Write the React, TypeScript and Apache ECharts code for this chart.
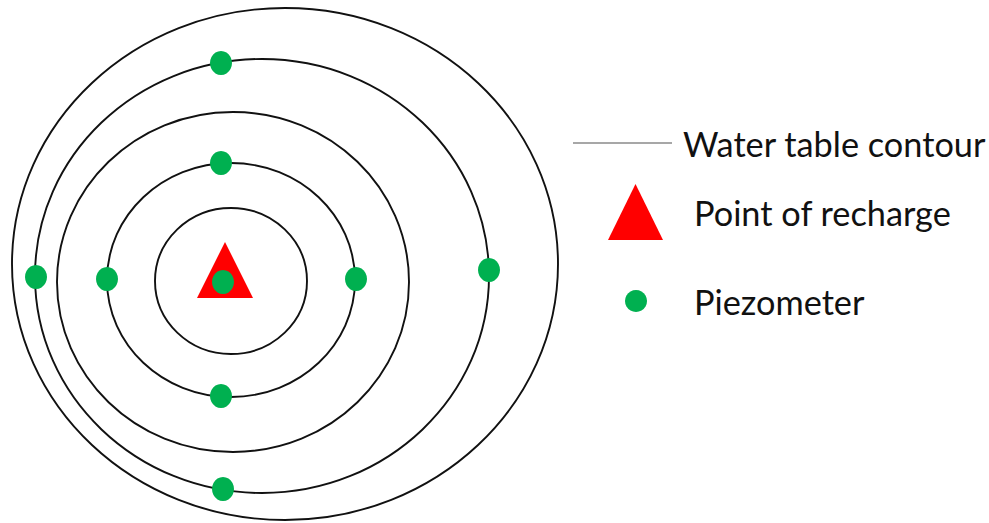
import React, { useEffect, useRef } from "react";
import * as echarts from "echarts";

// Diagram coordinate system: x 0..989 (left→right), y 0..523 (top→bottom)
const contourNames = ["C1", "C2", "C3", "C4", "C5"];
const contourCenterX = [285, 262, 233, 231, 231];
const contourCenterY = [264, 276, 282, 280, 281];
const contourRadiusX = [273, 227, 176, 124, 76];
const contourRadiusY = [256, 217, 170, 117, 73];

const piezometerX = [221, 221, 36, 107, 223, 356, 489, 221, 223];
const piezometerY = [63, 163, 277, 279, 282, 279, 270, 396, 489];

const rechargeX = [225];
const rechargeY = [270];

const legendLabels = ["Water table contour", "Point of recharge", "Piezometer"];

const FONT = "Lato";
const FONT_SIZE = 34.3;

export default function App() {
  const ref = useRef<HTMLDivElement>(null);

  useEffect(() => {
    document.body.style.margin = "0";
    const chart = echarts.init(ref.current!, null, { renderer: "svg" });

    const contourData = contourNames.map((n, i) => ({
      name: n,
      value: [contourCenterX[i], contourCenterY[i], contourRadiusX[i], contourRadiusY[i]],
    }));
    const piezoData = piezometerX.map((x, i) => [x, piezometerY[i]]);
    const rechargeData = rechargeX.map((x, i) => [x, rechargeY[i]]);

    const textBase = {
      fontFamily: FONT,
      fontSize: FONT_SIZE,
      lineHeight: 40,
      color: "#111",
    };

    const option: any = {
      animation: false,
      backgroundColor: "#ffffff",
      grid: { left: 0, right: 0, top: 0, bottom: 0, containLabel: false },
      xAxis: { type: "value", min: 0, max: 989, show: false },
      yAxis: { type: "value", min: 0, max: 523, inverse: true, show: false },
      tooltip: { show: false },
      legend: [
        {
          data: [
            {
              name: legendLabels[0],
              icon: "rect",
              itemStyle: { color: "#8a8a8a", borderWidth: 0 },
            },
          ],
          left: 573,
          top: 123,
          padding: 0,
          itemWidth: 99,
          itemHeight: 1.5,
          selectedMode: false,
          textStyle: { ...textBase, padding: [0, 0, 0, 6] },
        },
        {
          data: [{ name: legendLabels[1], icon: "triangle" }],
          left: 608,
          top: 184,
          padding: 0,
          itemWidth: 55,
          itemHeight: 56,
          symbolKeepAspect: false,
          selectedMode: false,
          textStyle: { ...textBase, padding: [6, 0, 0, 26] },
        },
        {
          data: [{ name: legendLabels[2], icon: "circle" }],
          left: 625,
          top: 279,
          padding: 0,
          itemWidth: 22,
          itemHeight: 23,
          symbolKeepAspect: false,
          selectedMode: false,
          textStyle: { ...textBase, padding: [4, 0, 0, 42] },
        },
      ],
      series: [
        {
          name: legendLabels[0],
          type: "custom",
          coordinateSystem: "cartesian2d",
          dimensions: ["cx", "cy", "rx", "ry"],
          encode: { x: 0, y: 1 },
          itemStyle: { color: "#8a8a8a" },
          renderItem: (params: any, api: any) => {
            const c = api.coord([api.value(0), api.value(1)]);
            const s = api.size([api.value(2), api.value(3)]);
            return {
              type: "ellipse",
              shape: { cx: c[0], cy: c[1], rx: Math.abs(s[0]), ry: Math.abs(s[1]) },
              style: { fill: "none", stroke: "#111", lineWidth: 1.9 },
              silent: true,
            };
          },
          data: contourData,
          z: 1,
        },
        {
          name: legendLabels[1],
          type: "scatter",
          symbol: "triangle",
          symbolSize: [56, 56],
          itemStyle: { color: "#ff0000", opacity: 1, borderWidth: 0 },
          data: rechargeData,
          z: 2,
          silent: true,
        },
        {
          name: legendLabels[2],
          type: "scatter",
          symbol: "circle",
          symbolSize: [22, 24],
          itemStyle: { color: "#00b050", opacity: 1, borderWidth: 0 },
          data: piezoData,
          z: 3,
          silent: true,
        },
      ],
    };

    chart.setOption(option);
    return () => chart.dispose();
  }, []);

  return <div ref={ref} style={{ width: 989, height: 523, background: "#fff" }} />;
}
